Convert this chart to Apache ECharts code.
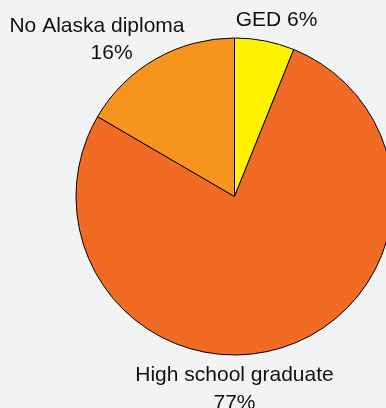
<!DOCTYPE html>
<html><head><meta charset="utf-8">
<script src="https://cdn.jsdelivr.net/npm/echarts@6/dist/echarts.min.js"></script>
<style>html,body{margin:0;padding:0;background:#f2f4f4}#c{width:386px;height:408px}</style>
</head><body><div id="c"></div>
<script>
const categories = ['GED', 'High school graduate', 'No Alaska diploma'];
const values = [6.1, 77.3, 16.6];
const percentLabels = ['6%', '77%', '16%'];
const colors = ['#fff200', '#f26b24', '#f7941d'];
const labelText = [
  categories[0] + ' ' + percentLabels[0],
  categories[1] + '\n' + percentLabels[1],
  categories[2] + '\n     ' + percentLabels[2]
];
const labelPos = [[276.5, 20], [234.5, 389], [97, 39.5]];
const labelLineHeights = [22, 28, 26.5];

const chart = echarts.init(document.getElementById('c'), null, {renderer: 'canvas'});
chart.setOption({
  backgroundColor: '#f2f4f4',
  animation: false,
  series: [{
    type: 'pie',
    center: [234.5, 196.5],
    radius: 158.5,
    startAngle: 90,
    clockwise: true,
    data: categories.map((c, i) => ({
      name: c, value: values[i],
      itemStyle: {color: colors[i]},
      label: {lineHeight: labelLineHeights[i]}
    })),
    itemStyle: {borderColor: '#000', borderWidth: 1},
    label: {
      show: true,
      position: 'outside',
      alignTo: 'none',
      overflow: 'none',
      formatter: p => labelText[p.dataIndex],
      fontFamily: 'Liberation Sans, Arial, sans-serif',
      fontSize: 21,
      color: '#111',
      align: 'center'
    },
    labelLine: {show: false},
    labelLayout: p => ({x: labelPos[p.dataIndex][0], y: labelPos[p.dataIndex][1], align: 'center', verticalAlign: 'middle', width: 300})
  }]
});
</script></body></html>
